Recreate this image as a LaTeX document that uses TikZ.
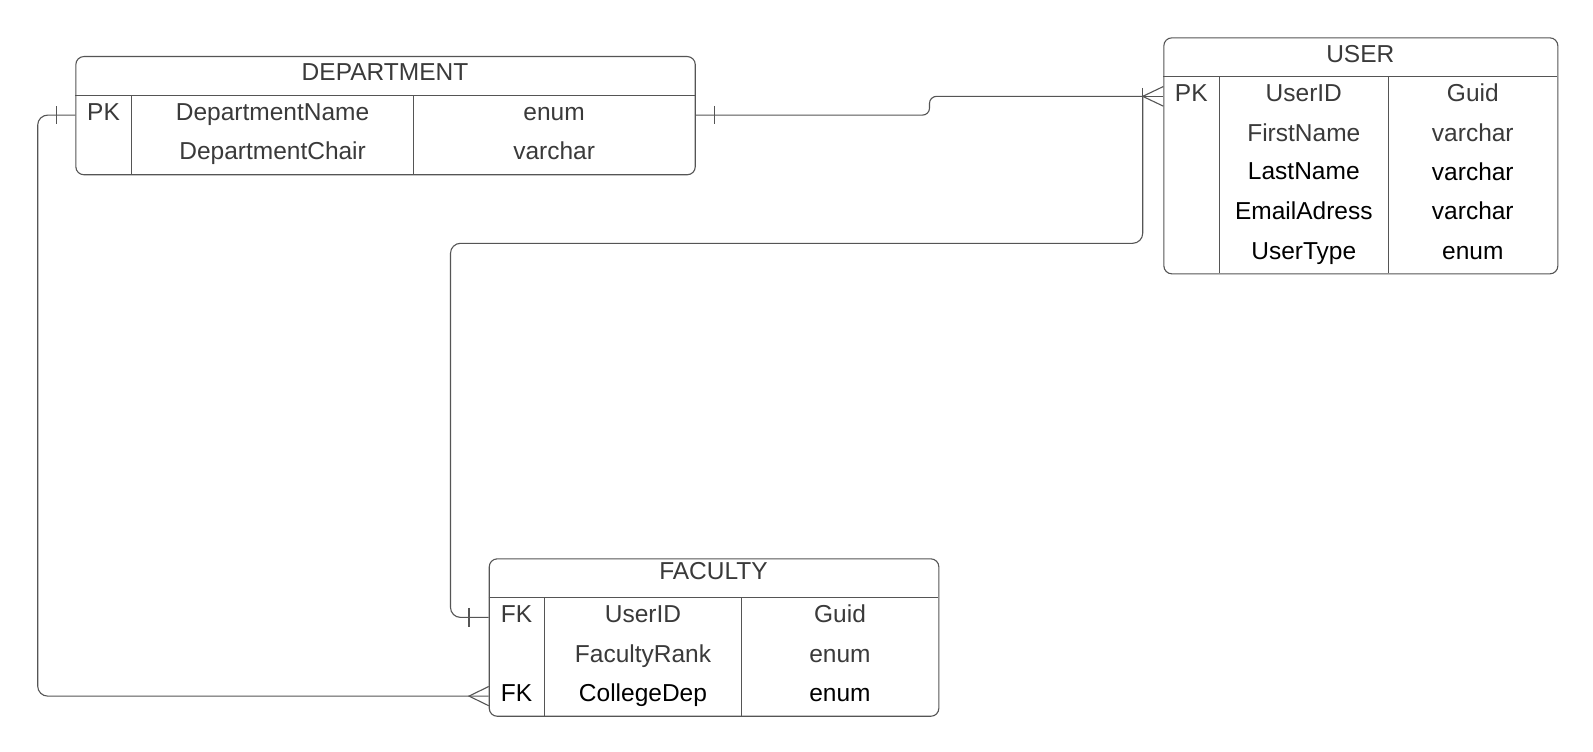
\documentclass[tikz,border=0pt]{standalone}
\usepackage{fontspec}
\setmainfont{Liberation Sans}
\usetikzlibrary{calc, positioning}
\definecolor{linegray}{HTML}{555555}
\definecolor{textgray}{HTML}{3A3A3A}
\newcommand{\erfont}{\fontsize{24.5}{29}\selectfont}
\tikzset{
  entity/.style = {draw=linegray, rounded corners=8pt, line width=1.1pt, inner sep=0pt, anchor=north west},
  sepline/.style = {draw=linegray, line width=1.1pt},
  cell/.style = {font=\erfont, text=textgray, inner sep=0pt, text height=17pt, text depth=6.2pt},
  dark/.style = {cell, text=black},
  rel/.style = {draw=linegray, line width=1.1pt, rounded corners=10pt},
  crowfoot/.style = {draw=linegray, line width=1.1pt, sharp corners},
}

\begin{document}
\begin{tikzpicture}[x=1pt, y=-1pt]
  \useasboundingbox[fill=white] (0,0) rectangle (1593,752);

  % DEPARTMENT
  \node[entity, minimum width=619.4pt, minimum height=118.2pt] (dept) at (75.3,56) {};
  \node[cell] (deptT) at (385,75) {DEPARTMENT};
  \draw[sepline] (75.3,95.4) -- (694.7,95.4);
  \draw[sepline] (131.7,95.4) -- (131.7,174.2);
  \draw[sepline] (413.5,95.4) -- (413.5,174.2);
  \node[cell] (dpk) at (103.5,115.1) {PK};
  \node[cell] (dname) at (272.6,115.1) {DepartmentName};
  \node[cell] (dnameT) at (554.1,115.1) {enum};
  \node[cell] (dchair) at (272.6,154.5) {DepartmentChair};
  \node[cell] (dchairT) at (554.1,154.5) {varchar};

  % USER
  \node[entity, minimum width=394pt, minimum height=236pt] (user) at (1163.3,37.3) {};
  \node[cell] (userT) at (1360.3,57) {USER};
  \draw[sepline] (1163.3,76.7) -- (1557.3,76.7);
  \draw[sepline] (1219.3,76.7) -- (1219.3,273.3);
  \draw[sepline] (1388.3,76.7) -- (1388.3,273.3);
  \node[cell] (upk) at (1191.3,96.35) {PK};
  \node[cell] (uid) at (1303.8,96.35) {UserID};
  \node[cell] (uidT) at (1472.8,96.35) {Guid};
  \node[cell] (ufirst) at (1303.8,135.7) {FirstName};
  \node[cell] (ufirstT) at (1472.8,135.7) {varchar};
  \node[dark] (ulast) at (1303.8,174.2) {LastName};
  \node[dark] (ulastT) at (1472.8,175.0) {varchar};
  \node[dark] (umail) at (1303.8,213.6) {EmailAdress};
  \node[dark] (umailT) at (1472.8,214.4) {varchar};
  \node[dark] (utype) at (1303.8,253.8) {UserType};
  \node[dark] (utypeT) at (1472.8,253.8) {enum};

  % FACULTY
  \node[entity, minimum width=449.6pt, minimum height=157.4pt] (fac) at (488.7,558.3) {};
  \node[cell] (facT) at (713.5,574.5) {FACULTY};
  \draw[sepline] (488.7,597.7) -- (938.3,597.7);
  \draw[sepline] (544.3,597.7) -- (544.3,715.7);
  \draw[sepline] (741.7,597.7) -- (741.7,715.7);
  \node[cell] (ffk1) at (516.5,617.4) {FK};
  \node[cell] (fid) at (643,617.4) {UserID};
  \node[cell] (fidT) at (840,617.4) {Guid};
  \node[cell] (frank) at (643,656.8) {FacultyRank};
  \node[cell] (frankT) at (840,656.8) {enum};
  \node[dark] (ffk2) at (516.5,696.1) {FK};
  \node[dark] (fdep) at (643,696.1) {CollegeDep};
  \node[dark] (fdepT) at (840,696.1) {enum};

  % relationships
  \coordinate (ujoin) at ($(user.west |- upk)+(-20.6,0)$);

  % department -- user
  \draw[rel, rounded corners=7pt] (dept.east |- dpk) -| (929.5,96.35) -- (ujoin);
  \draw[crowfoot] (ujoin) -- (user.west |- upk);
  \draw[crowfoot] ($(dept.east |- dpk)+(19,-9.2)$) -- ($(dept.east |- dpk)+(19,9.2)$);
  \draw[crowfoot] ($(user.west |- upk)+(0,-9.8)$) -- (ujoin) -- ($(user.west |- upk)+(0,9.8)$);

  % user -- faculty
  \draw[rel] (ujoin) |- (450.5,243.3) |- (fac.west |- ffk1);
  \draw[crowfoot] ($(ujoin)+(0,-8.5)$) -- ($(ujoin)+(0,8.5)$);
  \draw[crowfoot] ($(fac.west |- ffk1)+(-19.7,-9.5)$) -- ($(fac.west |- ffk1)+(-19.7,9.5)$);

  % department -- faculty
  \draw[rel] (dept.west |- dpk) -| (37.7,696.1) -- (fac.west |- ffk2);
  \draw[crowfoot] ($(dept.west |- dpk)+(-18.6,-9)$) -- ($(dept.west |- dpk)+(-18.6,9)$);
  \draw[crowfoot] ($(fac.west |- ffk2)+(0,-9.6)$) -- ($(fac.west |- ffk2)+(-19.7,0)$) -- ($(fac.west |- ffk2)+(0,9.6)$);
\end{tikzpicture}
\end{document}
